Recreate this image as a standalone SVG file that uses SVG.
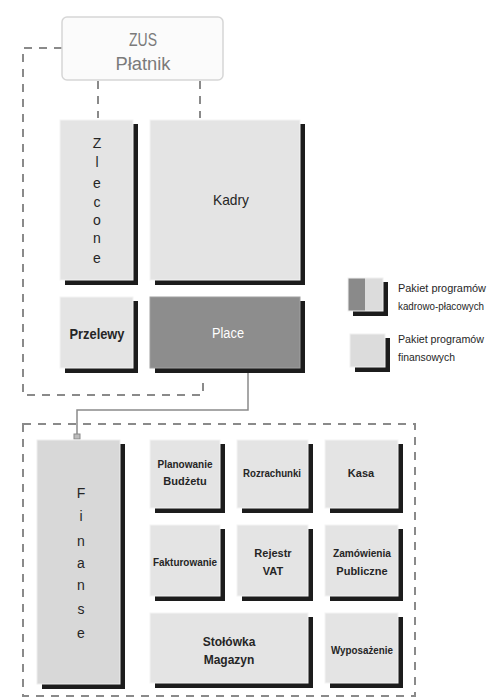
<svg xmlns="http://www.w3.org/2000/svg" width="498" height="699" viewBox="0 0 498 699">
<defs>
<filter id="sh" x="-20%" y="-20%" width="140%" height="140%"><feGaussianBlur stdDeviation="0.7"/></filter>
<linearGradient id="leg1" x1="0" x2="1" y1="0" y2="0"><stop offset="0" stop-color="#8a8a8a"/><stop offset="0.5" stop-color="#8a8a8a"/><stop offset="0.5" stop-color="#dcdcdc"/><stop offset="1" stop-color="#dcdcdc"/></linearGradient>
</defs>
<style>
.box{fill:#e4e4e4;stroke:#f4f4f4;stroke-width:1}
.dark{fill:#8d8d8d;stroke:#a0a0a0;stroke-width:1}
.fin{fill:#d8d8d8;stroke:#eeeeee;stroke-width:1}
.shd{fill:#1e1e1e;filter:url(#sh)}
.t{font-family:"Liberation Sans",Arial,sans-serif;fill:#262626;text-anchor:middle;font-weight:bold}
.n{font-weight:normal}
.dash{fill:none;stroke:#8a8a8a;stroke-width:2;stroke-dasharray:8,7}
.conn{fill:none;stroke:#8a8a8a;stroke-width:1.5}
.leg{font-family:"Liberation Sans",Arial,sans-serif;fill:#262626;font-size:11.5px}
</style>
<rect width="498" height="699" fill="#ffffff"/>

<g id="connectors">
<path class="dash" d="M62,48 H23 V395 H203 V376"/>
<path class="dash" d="M98,81 V118"/>
<path class="dash" d="M200,81 V118"/>
<rect class="dash" x="23" y="424" width="392" height="272"/>
<path class="conn" d="M248,370 V410 H77 V436"/>
<circle cx="248" cy="370" r="2.5" fill="#bcbcbc" stroke="#8a8a8a" stroke-width="1"/>
<rect x="74" y="434" width="6" height="5" fill="#bcbcbc" stroke="#8a8a8a" stroke-width="1"/>
</g>

<g id="zus">
<rect x="62" y="17" width="161" height="63" rx="5" fill="#fbfbfb" stroke="#d6d6d6" stroke-width="1.5"/>
<text x="143" y="46" font-family="'Liberation Sans',Arial,sans-serif" font-size="18" fill="#7a7a7a" text-anchor="middle" textLength="28" lengthAdjust="spacingAndGlyphs">ZUS</text>
<text x="143" y="70" font-family="'Liberation Sans',Arial,sans-serif" font-size="18" fill="#7a7a7a" text-anchor="middle" textLength="55" lengthAdjust="spacingAndGlyphs">Płatnik</text>
</g>

<g id="zlecone">
<rect class="shd" x="65" y="124" width="73" height="161"/>
<rect class="box" x="60" y="120" width="73" height="160"/>
<text class="t n" x="97" font-size="14"><tspan x="97" y="148">Z</tspan><tspan x="97" y="167">l</tspan><tspan x="97" y="188">e</tspan><tspan x="97" y="207">c</tspan><tspan x="97" y="225">o</tspan><tspan x="97" y="243">n</tspan><tspan x="97" y="263">e</tspan></text>
</g>

<g id="kadry">
<rect class="shd" x="155" y="124" width="150" height="161"/>
<rect class="box" x="150" y="120" width="150" height="160"/>
<text class="t n" x="231" y="205" font-size="15" textLength="36" lengthAdjust="spacingAndGlyphs">Kadry</text>
</g>

<g id="przelewy">
<rect class="shd" x="65" y="301" width="73" height="72"/>
<rect class="box" x="60" y="297" width="73" height="71"/>
<text class="t" x="97" y="339" font-size="14" textLength="55" lengthAdjust="spacingAndGlyphs">Przelewy</text>
</g>

<g id="place">
<rect class="shd" x="155" y="301" width="150" height="72"/>
<rect class="dark" x="150" y="297" width="150" height="71"/>
<text class="t n" x="228" y="338" font-size="14" style="fill:#ffffff" textLength="32" lengthAdjust="spacingAndGlyphs">Place</text>
</g>

<g id="legend">
<rect class="shd" x="353" y="282" width="35" height="34"/>
<rect x="348" y="278" width="35" height="33" fill="url(#leg1)" stroke="#f0f0f0"/>
<text class="leg" x="398" y="292" textLength="88" lengthAdjust="spacingAndGlyphs">Pakiet programów</text>
<text class="leg" x="398" y="310" textLength="86" lengthAdjust="spacingAndGlyphs">kadrowo-płacowych</text>
<rect class="shd" x="355" y="338" width="35" height="34"/>
<rect x="350" y="334" width="35" height="33" fill="#dcdcdc" stroke="#f0f0f0"/>
<text class="leg" x="398" y="343" textLength="86" lengthAdjust="spacingAndGlyphs">Pakiet programów</text>
<text class="leg" x="398" y="361" textLength="57" lengthAdjust="spacingAndGlyphs">finansowych</text>
</g>

<g id="finanse">
<rect class="shd" x="42" y="444" width="83" height="245"/>
<rect class="fin" x="37" y="440" width="83" height="244"/>
<text class="t n" x="81" font-size="14"><tspan x="81" y="498">F</tspan><tspan x="81" y="521">i</tspan><tspan x="81" y="546">n</tspan><tspan x="81" y="568">a</tspan><tspan x="81" y="590">n</tspan><tspan x="81" y="614">s</tspan><tspan x="81" y="638">e</tspan></text>
</g>

<g id="planowanie">
<rect class="shd" x="155" y="444" width="70" height="69"/>
<rect class="box" x="150" y="440" width="70" height="68"/>
<text class="t" x="185" font-size="11"><tspan x="185" y="468" textLength="55" lengthAdjust="spacingAndGlyphs">Planowanie</tspan><tspan x="185" y="485">Budżetu</tspan></text>
</g>

<g id="rozrachunki">
<rect class="shd" x="242" y="444" width="71" height="69"/>
<rect class="box" x="237" y="440" width="71" height="68"/>
<text class="t" x="272" y="477" font-size="11" textLength="58" lengthAdjust="spacingAndGlyphs">Rozrachunki</text>
</g>

<g id="kasa">
<rect class="shd" x="330" y="444" width="73" height="69"/>
<rect class="box" x="325" y="440" width="73" height="68"/>
<text class="t" x="361" y="477" font-size="11">Kasa</text>
</g>

<g id="fakturowanie">
<rect class="shd" x="155" y="529" width="70" height="72"/>
<rect class="box" x="150" y="525" width="70" height="71"/>
<text class="t" x="185" y="566" font-size="11" textLength="64" lengthAdjust="spacingAndGlyphs">Fakturowanie</text>
</g>

<g id="rejestr">
<rect class="shd" x="242" y="529" width="71" height="72"/>
<rect class="box" x="237" y="525" width="71" height="71"/>
<text class="t" x="273" font-size="11"><tspan x="273" y="557">Rejestr</tspan><tspan x="273" y="575">VAT</tspan></text>
</g>

<g id="zamowienia">
<rect class="shd" x="330" y="529" width="73" height="72"/>
<rect class="box" x="325" y="525" width="73" height="71"/>
<text class="t" x="362" font-size="11"><tspan x="362" y="557" textLength="58" lengthAdjust="spacingAndGlyphs">Zamówienia</tspan><tspan x="362" y="575">Publiczne</tspan></text>
</g>

<g id="stolowka">
<rect class="shd" x="155" y="617" width="158" height="71"/>
<rect class="box" x="150" y="613" width="158" height="70"/>
<text class="t" x="229" font-size="12"><tspan x="229" y="646">Stołówka</tspan><tspan x="229" y="664">Magazyn</tspan></text>
</g>

<g id="wyposazenie">
<rect class="shd" x="330" y="617" width="73" height="71"/>
<rect class="box" x="325" y="613" width="73" height="70"/>
<text class="t" x="362" y="654" font-size="11" textLength="62" lengthAdjust="spacingAndGlyphs">Wyposażenie</text>
</g>
</svg>
